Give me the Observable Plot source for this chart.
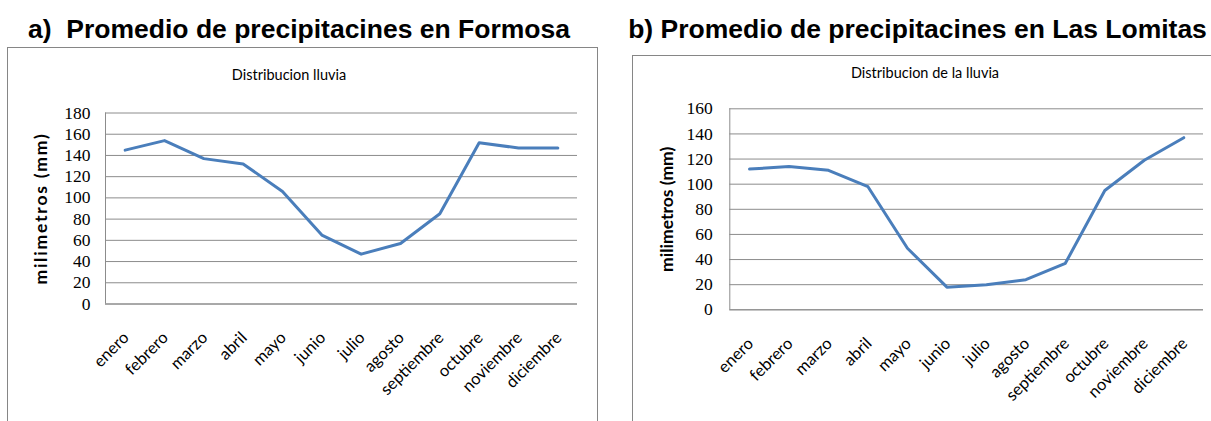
<!DOCTYPE html>
<html>
<head>
<meta charset="utf-8">
<script src="https://cdn.jsdelivr.net/npm/d3@7"></script>
<script src="https://cdn.jsdelivr.net/npm/@observablehq/plot@0.6"></script>
<style>
  html, body { margin: 0; padding: 0; background: #fff; }
  #root { position: relative; width: 1211px; height: 421px; overflow: hidden; background: #fff; }
  .title { position: absolute; font-family: "Liberation Sans", Arial, sans-serif; font-weight: bold; font-size: 26.5px; line-height: 30px; color: #000; text-align: center; white-space: pre; }
  .sub { position: absolute; font-family: Lato, "Open Sans", sans-serif; font-size: 14.5px; line-height: 16px; color: #000; text-align: center; white-space: pre; }
  .box { position: absolute; border: 1px solid #868686; box-sizing: border-box; }
  .chart { position: absolute; top: 0; }
</style>
</head>
<body>
<div id="root">
  <div class="box" style="left:7px; top:47px; width:591px; height:420px;"></div>
  <div class="box" style="left:632px; top:55px; width:620px; height:420px;"></div>
  <div class="title" style="left:0px; top:14px; width:598px;">a)  Promedio de precipitacines en Formosa</div>
  <div class="title" style="left:617px; top:14px; width:601px;">b) Promedio de precipitacines en Las Lomitas</div>
  <div class="sub" style="left:139px; top:67px; width:300px;">Distribucion lluvia</div>
  <div class="sub" style="left:775px; top:65px; width:300px;">Distribucion de la lluvia</div>
  <div class="chart" id="a" style="left:0px;"></div>
  <div class="chart" id="b" style="left:610px;"></div>
</div>
<script>
const months = ["enero", "febrero", "marzo", "abril", "mayo", "junio", "julio", "agosto", "septiembre", "octubre", "noviembre", "diciembre"];
const formosa = [145, 154, 137, 132, 106, 65, 47, 57, 85, 152, 147, 147];
const lomitas = [112, 114, 111, 98, 49, 18, 20, 24, 37, 95, 119, 137];
const ticksFormosa = [0, 20, 40, 60, 80, 100, 120, 140, 160, 180];
const ticksLomitas = [0, 20, 40, 60, 80, 100, 120, 140, 160];
const yTitle = "milimetros (mm)";

const gridColor = "#8c8c8c";
const lineColor = "#4a7ebb";

function panel({values, yTicks, width, mL, mR, mT, mB, titleDx, tickPad, letterSpacing}) {
  const idx = months.map((_, i) => i);
  const data = idx.map(i => ({i, v: values[i]}));
  const svg = Plot.plot({
    width, height: 421,
    marginLeft: mL, marginRight: mR, marginTop: mT, marginBottom: mB,
    style: {background: "transparent", overflow: "visible"},
    x: {type: "linear", domain: [-0.5, months.length - 0.5], axis: null},
    y: {domain: [0, yTicks[yTicks.length - 1]], axis: null},
    marks: [
      Plot.gridY(yTicks, {stroke: gridColor, strokeOpacity: 1, strokeWidth: 1}),
      Plot.ruleX([-0.5], {stroke: gridColor, strokeWidth: 1}),
      Plot.ruleY([0], {stroke: gridColor, strokeWidth: 1}),
      Plot.axisY(yTicks, {tickSize: 0, tickPadding: tickPad, fontFamily: "Liberation Serif", fontSize: 17.5, fill: "#000", label: null}),
      Plot.axisX(idx, {tickSize: 0, tickPadding: 31, dx: 1, tickRotate: -45, tickFormat: i => months[i], fontFamily: "Lato", fontSize: 16.5, fill: "#000", label: null}),
      Plot.text([yTitle], {frameAnchor: "left", textAnchor: "middle", dx: titleDx, rotate: -90, fontWeight: "bold", fontSize: 17.5, fontFamily: "Lato", fill: "#000"}),
      Plot.line(data, {x: "i", y: "v", stroke: lineColor, strokeWidth: 3})
    ]
  });
  svg.querySelectorAll("text").forEach(t => {
    if (t.textContent === yTitle) t.setAttribute("letter-spacing", letterSpacing);
  });
  return svg;
}

document.getElementById("a").append(panel({
  values: formosa, yTicks: ticksFormosa, width: 600,
  mL: 105, mR: 23, mT: 112.5, mB: 117.5, titleDx: -64, tickPad: 15, letterSpacing: "1.8px"
}));
document.getElementById("b").append(panel({
  values: lomitas, yTicks: ticksLomitas, width: 601,
  mL: 119.3, mR: 8, mT: 108.3, mB: 111.7, titleDx: -62, tickPad: 17, letterSpacing: "0px"
}));
</script>
</body>
</html>
